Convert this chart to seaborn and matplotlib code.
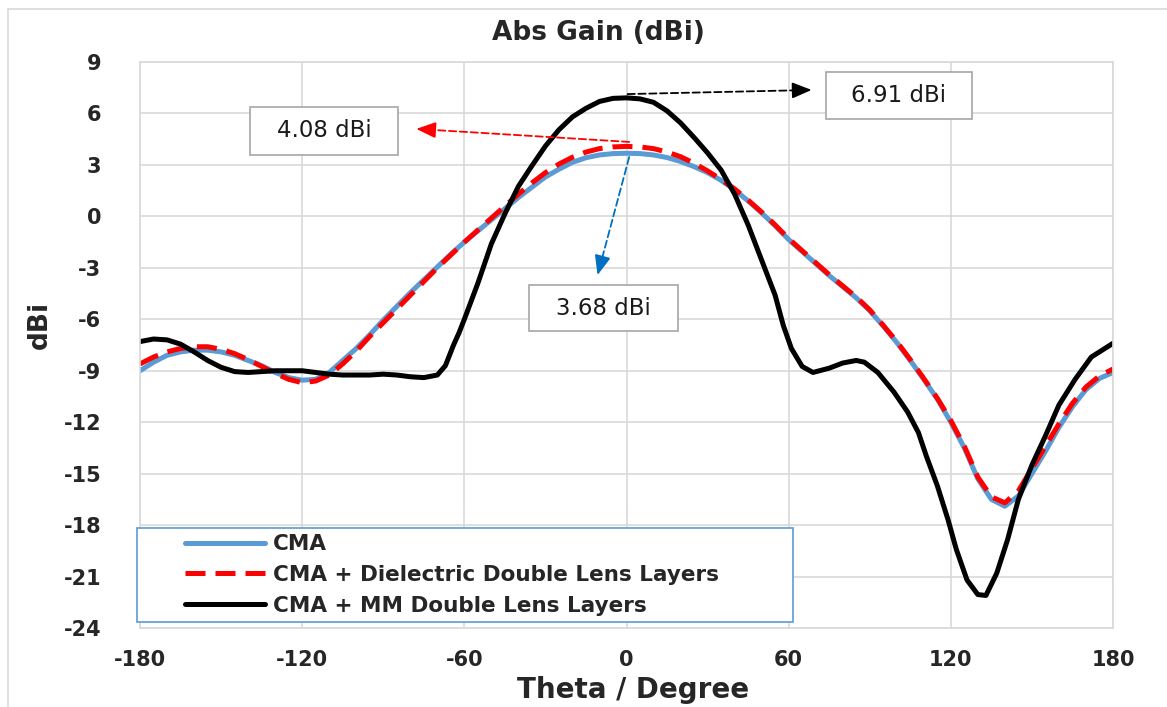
import matplotlib
matplotlib.use("Agg")
import matplotlib.pyplot as plt
from matplotlib.legend_handler import HandlerLine2D
from matplotlib.lines import Line2D
from matplotlib.patches import Rectangle
import numpy as np
import pandas as pd
import seaborn as sns

# theta grid for the two smooth patterns (degrees)
theta = list(range(-180, 181, 5))

cma = [
    -9.0, -8.5, -8.1, -7.9, -7.8, -7.8, -7.9, -8.1, -8.4, -8.7,
    -9.1, -9.4, -9.55, -9.5, -9.1, -8.4, -7.7, -6.9, -6.05, -5.25,
    -4.45, -3.7, -2.95, -2.2, -1.5, -0.85, -0.2, 0.45, 1.1, 1.7,
    2.3, 2.75, 3.15, 3.42, 3.58, 3.66, 3.68, 3.66, 3.58, 3.43,
    3.2, 2.9, 2.55, 2.1, 1.55, 0.9, 0.2, -0.55, -1.35, -2.05,
    -2.75, -3.45, -4.1, -4.75, -5.5, -6.4, -7.35, -8.4, -9.5, -10.65,
    -12.0, -13.5, -15.3, -16.5, -16.9, -16.3, -15.0, -13.7, -12.3, -11.1,
    -10.1, -9.45, -9.1,
]

dielectric = [
    -8.6, -8.2, -7.9, -7.7, -7.6, -7.6, -7.75, -8.0, -8.35, -8.75,
    -9.15, -9.5, -9.7, -9.6, -9.25, -8.6, -7.85, -7.0, -6.2, -5.4,
    -4.6, -3.8, -3.0, -2.25, -1.5, -0.8, -0.1, 0.6, 1.3, 1.95,
    2.55, 3.05, 3.45, 3.75, 3.95, 4.05, 4.08, 4.05, 3.95, 3.75,
    3.48, 3.1, 2.65, 2.15, 1.6, 0.95, 0.25, -0.5, -1.3, -2.0,
    -2.7, -3.4, -4.05, -4.7, -5.45, -6.35, -7.3, -8.35, -9.45, -10.6,
    -11.9, -13.4, -15.2, -16.35, -16.7, -16.0, -14.7, -13.4, -12.1, -10.9,
    -9.95, -9.3, -8.9,
]

# metamaterial lens pattern, sampled more densely at the steep edges
theta_mm = [
    -180, -175, -170, -165, -160, -155, -150, -145, -140, -135,
    -130, -125, -120, -115, -110, -105, -100, -95, -90, -85,
    -80, -75, -70, -67, -64, -62, -60, -55, -50, -45,
    -40, -35, -30, -25, -20, -15, -10, -5, 0, 5,
    10, 15, 20, 25, 30, 35, 40, 45, 50, 55,
    58, 61, 65, 69, 75, 80, 85, 88, 93, 99,
    104, 108, 111, 115, 119, 122, 126, 130, 133, 137,
    141, 145, 150, 155, 160, 166, 172, 176, 180,
]

mm_lens = [
    -7.3, -7.15, -7.2, -7.45, -7.9, -8.4, -8.8, -9.05, -9.1, -9.05,
    -9.0, -9.0, -9.0, -9.1, -9.2, -9.25, -9.25, -9.25, -9.2, -9.25,
    -9.35, -9.4, -9.25, -8.7, -7.5, -6.8, -6.0, -3.9, -1.6, 0.15,
    1.75, 2.95, 4.1, 5.05, 5.8, 6.3, 6.7, 6.88, 6.91, 6.85,
    6.65, 6.15, 5.45, 4.6, 3.7, 2.7, 1.3, -0.5, -2.55, -4.6,
    -6.35, -7.7, -8.75, -9.1, -8.85, -8.55, -8.4, -8.5, -9.1, -10.25,
    -11.4, -12.6, -14.0, -15.7, -17.7, -19.4, -21.2, -22.05, -22.1, -20.8,
    -18.85, -16.5, -14.5, -12.8, -11.0, -9.5, -8.2, -7.8, -7.4,
]

series_names = [
    "CMA",
    "CMA + Dielectric Double Lens Layers",
    "CMA + MM Double Lens Layers",
]
series_colors = ["#5b9bd5", "#ff0000", "#000000"]

x_ticks = list(range(-180, 181, 60))
y_ticks = list(range(-24, 10, 3))

# peak annotations: label, arrow start, arrow tip, box (x0, x1, y0, y1), colour
peak_notes = [
    ("4.08 dBi", (1.0, 4.34), (-77.8, 5.1), (-139.4, -84.6, 3.58, 6.38), "#ff0000"),
    ("6.91 dBi", (0.4, 7.13), (68.5, 7.37), (73.7, 127.8, 5.68, 8.42), "#000000"),
    ("3.68 dBi", (1.0, 3.46), (-10.7, -3.42), (-35.9, 18.9, -6.69, -4.0), "#0070c0"),
]


def draw_dashed_arrow(ax, start, tip, color):
    """Dashed shaft with a solid filled head, like the Excel callouts."""
    p0 = ax.transData.transform(start)
    p1 = ax.transData.transform(tip)
    frac = 1 - 16 / np.hypot(*(p1 - p0))
    mid = (start[0] + frac * (tip[0] - start[0]), start[1] + frac * (tip[1] - start[1]))
    ax.annotate("", xy=mid, xytext=start, zorder=5,
                arrowprops=dict(arrowstyle="-", color=color, linestyle=(0, (4, 2)),
                                lw=1.3, shrinkA=0, shrinkB=0))
    ax.annotate("", xy=tip, xytext=mid, zorder=5,
                arrowprops=dict(arrowstyle="-|>,head_length=0.85,head_width=0.35",
                                color=color, lw=1.3, shrinkA=0, shrinkB=0,
                                mutation_scale=14))


sns.set_theme(style="whitegrid")
plt.rcParams["font.family"] = ["DejaVu Sans"]
plt.rcParams["axes.unicode_minus"] = False

fig = plt.figure(figsize=(11.67, 7.07), dpi=100)
ax = fig.add_axes([0.12, 0.1117, 0.8337, 0.8006])

frames = [
    pd.DataFrame({"theta": theta, "gain": cma}),
    pd.DataFrame({"theta": theta, "gain": dielectric}),
    pd.DataFrame({"theta": theta_mm, "gain": mm_lens}),
]
styles = ["-", (0, (4, 2)), "-"]
widths = [3.6, 3.6, 3.6]

for frame, name, color, ls, lw in zip(frames, series_names, series_colors, styles, widths):
    sns.lineplot(
        data=frame, x="theta", y="gain", ax=ax, color=color, linestyle=ls,
        linewidth=lw, label=name, estimator=None, sort=False,
    )

ax.set_xlim(-180, 180)
ax.set_ylim(-24, 9)
ax.set_xticks(x_ticks)
ax.set_yticks(y_ticks)
ax.grid(True, color="#d9d9d9", linewidth=1.2)
ax.set_facecolor("white")
for spine in ax.spines.values():
    spine.set_color("#d9d9d9")
    spine.set_linewidth(1.2)
ax.tick_params(axis="both", length=0, labelsize=15)
ax.tick_params(axis="x", pad=16)
ax.tick_params(axis="y", pad=28)
for lbl in ax.get_xticklabels() + ax.get_yticklabels():
    lbl.set_fontweight("bold")

ax.set_xlabel("Theta / Degree", fontsize=20, fontweight="bold")
ax.set_ylabel("dBi", fontsize=19, fontweight="bold")
ax.xaxis.set_label_coords(0.507, -0.11)
ax.xaxis.label.set_va("center")
ax.yaxis.set_label_coords(-0.103, 0.535)
ax.yaxis.label.set_va("center")

for text, start, tip, box, color in peak_notes:
    draw_dashed_arrow(ax, start, tip, color)
    x0, x1, y0, y1 = box
    ax.add_patch(Rectangle((x0, y0), x1 - x0, y1 - y0, facecolor="white",
                           edgecolor="#a6a6a6", linewidth=1.2, zorder=6))
    ax.text((x0 + x1) / 2, (y0 + y1) / 2, text, ha="center", va="center",
            fontsize=16.5, color="#1a1a1a", zorder=7)

handles, labels = ax.get_legend_handles_labels()
leg = ax.legend(
    handles, labels,
    loc="lower left", bbox_to_anchor=(-0.003, 0.0106, 0.674, 0), mode="expand",
    fontsize=15.5, frameon=True, fancybox=False, handlelength=5.66,
    handletextpad=0.33, borderpad=0.3, labelspacing=0.5, borderaxespad=0,
    handler_map={Line2D: HandlerLine2D(xpad=1.93)},
)
leg.get_frame().set_edgecolor("#5b9bd5")
leg.get_frame().set_linewidth(1.2)
leg.get_frame().set_alpha(1)
for t in leg.get_texts():
    t.set_fontweight("bold")
leg.set_zorder(10)

fig.text(0.513, 0.953, "Abs Gain (dBi)", ha="center", va="center",
         fontsize=19, fontweight="bold")

# faint outer chart border (Excel chart area)
fig.patches.append(Rectangle((0.007, -0.02), 1.1, 1.007, transform=fig.transFigure,
                             fill=False, edgecolor="#d9d9d9", linewidth=1.2))

fig.savefig("out.png", dpi=100)
